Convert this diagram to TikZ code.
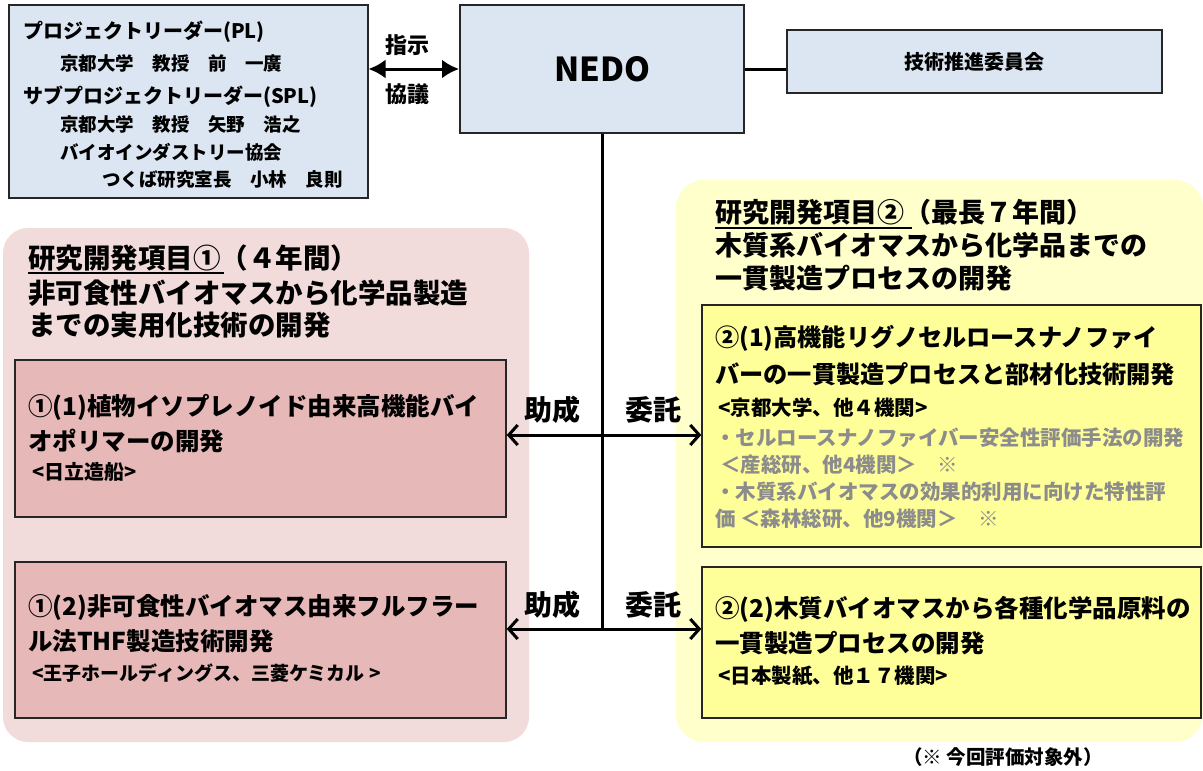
\documentclass[tikz,border=0pt]{standalone}
\usepackage{fontspec}
\setmainfont{Noto Sans CJK JP}
\usetikzlibrary{arrows.meta}
\definecolor{bluefill}{HTML}{DCE6F2}
\definecolor{pinkpanel}{HTML}{F2DCDB}
\definecolor{pinkbox}{HTML}{E6B8B7}
\definecolor{yellowpanel}{HTML}{FFFFCC}
\definecolor{yellowbox}{HTML}{FFFF99}
\definecolor{graytext}{HTML}{8C8C8C}
\begin{document}
\begin{tikzpicture}[x=1pt,y=-1pt,
  bluebox/.style={draw=black!85, line width=2pt, fill=bluefill, inner sep=0pt},
  itembox/.style={draw=black!85, line width=1.4pt, inner sep=0pt},
  txt/.style={anchor=west, inner sep=0pt, font=\bfseries\fontsize{#1}{#1}\selectfont},
  ctxt/.style={anchor=center, inner sep=0pt, font=\bfseries\fontsize{#1}{#1}\selectfont},
  conn/.style={line width=3pt},
  barb/.style={line width=3pt, {Straight Barb[length=9pt,width=20pt,line width=3pt]}-{Straight Barb[length=9pt,width=20pt,line width=3pt]}},
  solidarr/.style={line width=3pt, {Latex[length=17pt,width=19pt]}-{Latex[length=17pt,width=19pt]}}
]
\useasboundingbox (0,0) rectangle (1203,771);

% panels
\fill[pinkpanel, rounded corners=25pt] (3,228) rectangle (529,742);
\fill[yellowpanel, rounded corners=28pt] (676,180) rectangle (1203,742);

% top boxes
\node[bluebox, minimum width=359pt, minimum height=193pt] (lead) at (188,101.5) {};
\node[bluebox, minimum width=284pt, minimum height=128pt] (nedo) at (602,69) {};
\node[ctxt=33] (nedot) at (nedo.center) {NEDO};
\node[bluebox, minimum width=375pt, minimum height=63pt] (cmt) at (974.5,61.5) {};
\node[ctxt=20] (cmtt) at (cmt.center) {技術推進委員会};

% leader texts
\node[txt=20] (pl) at (23,32) {プロジェクトリーダー(PL)};
\node[txt=18.5] (pl1) at (60,63) {京都大学　教授　前　一廣};
\node[txt=20] (spl) at (23,97) {サブプロジェクトリーダー(SPL)};
\node[txt=18.5] (spl1) at (60,124) {京都大学　教授　矢野　浩之};
\node[txt=18.5] (spl2) at (60,152) {バイオインダストリー協会};
\node[txt=18.5] (spl3) at (102,180) {つくば研究室長　小林　良則};

% instruct arrow
\draw[solidarr] (lead.east |- 0,69) -- (nedo.west |- 0,69);
\node[ctxt=22] (shiji) at (407,45) {指示};
\node[ctxt=22] (kyogi) at (407,94) {協議};

% committee line
\draw[conn] (nedo.east) -- (nedo.east -| cmt.west);

% left panel header
\node[txt=27.5] (lh1) at (28,258) {研究開発項目①（４年間）};
\draw[line width=1.3pt] (28,273) -- (224,273);
\node[txt=27.5] (lh2) at (28,293) {非可食性バイオマスから化学品製造};
\node[txt=27.5] (lh3) at (28,325) {までの実用化技術の開発};

% right panel header
\node[txt=27] (rh1) at (715,212) {研究開発項目②（最長７年間）};
\draw[line width=1.3pt] (715,228) -- (912,228);
\node[txt=27] (rh2) at (715,245) {木質系バイオマスから化学品までの};
\node[txt=27] (rh3) at (715,278) {一貫製造プロセスの開発};

% left boxes
\node[itembox, fill=pinkbox, minimum width=491pt, minimum height=157pt] (b1) at (260.5,438.5) {};
\node[txt=24.5] (b1a) at (28,407) {①(1)植物イソプレノイド由来高機能バイ};
\node[txt=24.5] (b1b) at (28,441) {オポリマーの開発};
\node[txt=20] (b1c) at (32,472) {<日立造船>};

\node[itembox, fill=pinkbox, minimum width=491pt, minimum height=156pt] (b2) at (260.5,640) {};
\node[txt=24.5] (b2a) at (28,607) {①(2)非可食性バイオマス由来フルフラー};
\node[txt=24.5] (b2b) at (28,641) {ル法THF製造技術開発};
\node[txt=19] (b2c) at (32,673) {<王子ホールディングス、三菱ケミカル >};

% right boxes
\node[itembox, fill=yellowbox, minimum width=499pt, minimum height=242pt] (c1) at (951.5,426) {};
\node[txt=24.2] (c1a) at (715,338) {②(1)高機能リグノセルロースナノファイ};
\node[txt=24.2] (c1b) at (715,374) {バーの一貫製造プロセスと部材化技術開発};
\node[txt=20.5] (c1c) at (718,408) {<京都大学、他４機関>};
\node[txt=20.5, text=graytext] (c1d) at (715,438) {・セルロースナノファイバー安全性評価手法の開発};
\node[txt=20.5, text=graytext] (c1e) at (720,465) {＜産総研、他4機関＞　※};
\node[txt=20.5, text=graytext] (c1f) at (715,492) {・木質系バイオマスの効果的利用に向けた特性評};
\node[txt=20.5, text=graytext] (c1g) at (715,519) {価 ＜森林総研、他9機関＞　※};

\node[itembox, fill=yellowbox, minimum width=499pt, minimum height=151pt] (c2) at (951.5,642.5) {};
\node[txt=24.5] (c2a) at (715,609) {②(2)木質バイオマスから各種化学品原料の};
\node[txt=24.5] (c2b) at (715,643) {一貫製造プロセスの開発};
\node[txt=20.5] (c2c) at (718,676) {<日本製紙、他１７機関>};

% connectors
\coordinate (j1) at (nedo.south |- 0,435);
\coordinate (j2) at (nedo.south |- 0,629);
\draw[conn] (nedo.south) -- (j2);
\draw[barb] (b1.east |- j1) -- (c1.west |- j1);
\draw[barb] (b2.east |- j2) -- (c2.west |- j2);
\node[ctxt=28] (jo1) at (552,410) {助成};
\node[ctxt=28] (it1) at (653,410) {委託};
\node[ctxt=28] (jo2) at (552,605) {助成};
\node[ctxt=28] (it2) at (653,605) {委託};

% note
\node[ctxt=19.5] (note) at (1003,757) {（※ 今回評価対象外）};
\end{tikzpicture}
\end{document}
